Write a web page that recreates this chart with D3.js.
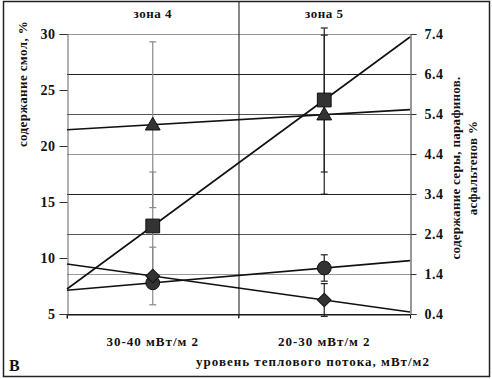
<!DOCTYPE html>
<html>
<head>
<meta charset="utf-8">
<script src="https://cdn.jsdelivr.net/npm/d3@7"></script>
<style>
  body { margin: 0; background: #fff; }
  svg text { font-family: 'Liberation Serif', 'Times New Roman', serif; font-weight: bold; fill: #111; }
</style>
</head>
<body>
<div id="chart"></div>
<script>
// data
const categories = ['30-40 мВт/м 2', '20-30 мВт/м 2']
const zones = ['зона 4', 'зона 5']
const leftTicks = [5, 10, 15, 20, 25, 30]
const rightTicks = [0.4, 1.4, 2.4, 3.4, 4.4, 5.4, 6.4, 7.4]

// смолы, left axis (triangles)
const resin = [21.9, 22.8]
const resinErr = [7.4, 7.1]
// right axis series
const paraffin = [2.6, 5.75]       // squares
const paraffinErr = [1.35, 1.8]
const sulfur = [1.18, 1.55]        // circles
const sulfurErr = [0.1, 0.33]
const asphaltene = [1.35, 0.75]    // diamonds
const asphalteneErr = [0.72, 0.41]

const W = 492, H = 379
const margin = {top: 34, left: 67, right: 82, bottom: 65}

let svg = d3.select('#chart').append('svg').attr('width', W).attr('height', H)

let x = d3.scaleBand().domain(categories).range([margin.left, W - margin.right])
let yL = d3.scaleLinear().domain([5, 30]).range([H - margin.bottom, margin.top])
let yR = d3.scaleLinear().domain([0.4, 7.4]).range([H - margin.bottom, margin.top])
let bw = x.bandwidth()
let cx = i => x(categories[i]) + bw / 2
let x0 = margin.left, x1 = W - margin.right, yB = H - margin.bottom

// frame
svg.append('rect').attr('x', 3.5).attr('y', 1.5).attr('width', 486).attr('height', 375)
  .attr('fill', 'none').attr('stroke', '#222').attr('stroke-width', 1.5)

// grid lines (right axis ticks)
svg.append('g').selectAll('line').data(rightTicks).enter().append('line')
  .attr('x1', x0).attr('x2', x1)
  .attr('y1', d => yR(d) + 0.5).attr('y2', d => yR(d) + 0.5)
  .attr('stroke', (d, i) => i % 3 === 0 ? '#222' : (i % 3 === 1 ? '#999' : '#555'))

// zone separator + zone titles
svg.append('line').attr('x1', x(categories[1]) + 0.5).attr('x2', x(categories[1]) + 0.5)
  .attr('y1', 2).attr('y2', yB + 4).attr('stroke', '#111')
svg.selectAll('.zone').data(zones).enter().append('text').classed('zone', true)
  .attr('x', (d, i) => cx(i)).attr('y', 18).attr('text-anchor', 'middle')
  .style('font-size', '13px').style('letter-spacing', '0.5px').text(d => d)

// axes
let axL = svg.append('g').attr('transform', `translate(${x0 + 0.5},0)`)
  .call(d3.axisLeft(yL).tickValues(leftTicks).tickSize(8).tickPadding(4).tickFormat(d3.format('d')))
axL.select('.domain').attr('stroke', '#666')
let axR = svg.append('g').attr('transform', `translate(${x1 + 0.5},0)`)
  .call(d3.axisRight(yR).tickValues(rightTicks).tickSize(6).tickPadding(8).tickFormat(d3.format('.1f')))
axR.select('.domain').attr('stroke', '#333')
svg.selectAll('.tick text').style('font-size', '14px').style('letter-spacing', '0.5px').style('font-family', null)
svg.selectAll('.tick line').attr('stroke', '#333')
svg.append('g').attr('transform', `translate(0,${yB + 0.5})`)
  .call(d3.axisBottom(x).tickSize(4).tickPadding(18))
  .call(g => g.select('.domain').attr('stroke', '#111'))
  .call(g => g.selectAll('.tick text').style('font-size', '13px').style('letter-spacing', '1px').style('font-family', null))
  .call(g => g.selectAll('.tick line').attr('transform', `translate(${-bw / 2},0)`).attr('stroke', '#333'))

// series
let series = [
  {v: resin, e: resinErr, y: yL, sym: d3.symbolTriangle, size: 95, rot: 0},
  {v: paraffin, e: paraffinErr, y: yR, sym: d3.symbolSquare, size: 190, rot: 0},
  {v: sulfur, e: sulfurErr, y: yR, sym: d3.symbolCircle, size: 150, rot: 0},
  {v: asphaltene, e: asphalteneErr, y: yR, sym: d3.symbolSquare, size: 95, rot: 45}
]

// error bars
series.forEach(s => {
  s.v.forEach((v, i) => {
    let col = i === 0 ? '#888' : '#222'
    let g = svg.append('g').attr('stroke', col).attr('stroke-width', 1.2)
    let yt = s.y(v + s.e[i]), yb = s.y(v - s.e[i])
    g.append('line').attr('x1', cx(i)).attr('x2', cx(i)).attr('y1', yt).attr('y2', yb)
    g.append('line').attr('x1', cx(i) - 3.5).attr('x2', cx(i) + 3.5).attr('y1', yt).attr('y2', yt)
    g.append('line').attr('x1', cx(i) - 3.5).attr('x2', cx(i) + 3.5).attr('y1', yb).attr('y2', yb)
  })
})

// linear trend lines extended to the plot edges
series.forEach(s => {
  let n = s.v.length
  let mx = d3.mean(d3.range(n)), my = d3.mean(s.v)
  let k = d3.sum(d3.range(n), i => (i - mx) * (s.v[i] - my)) / d3.sum(d3.range(n), i => (i - mx) * (i - mx))
  let f = t => my + k * (t - mx)
  let xi = d3.scaleLinear().domain([-0.5, n - 0.5]).range([x0, x1])
  svg.append('line')
    .attr('x1', xi(-0.5)).attr('y1', s.y(f(-0.5)))
    .attr('x2', xi(n - 0.5)).attr('y2', s.y(f(n - 0.5)))
    .attr('stroke', '#111').attr('stroke-width', 1.6)
})

// markers
series.forEach(s => {
  svg.append('g').selectAll('path').data(s.v).enter().append('path')
    .attr('d', d3.symbol().type(s.sym).size(s.size))
    .attr('transform', (d, i) => `translate(${cx(i)},${s.y(d) + (s.sym === d3.symbolTriangle ? 1 : 0)}) rotate(${s.rot})`)
    .attr('fill', '#333').attr('stroke', '#111')
})

// axis titles
svg.append('text').attr('transform', 'translate(27,84) rotate(-90)')
  .attr('text-anchor', 'middle').style('font-size', '13px').style('letter-spacing', '0.4px').text('содержание смол, %')
svg.append('text').attr('transform', 'translate(460,168) rotate(-90)')
  .attr('text-anchor', 'middle').style('font-size', '13px').style('letter-spacing', '0.3px').text('содержание серы, парафинов.')
svg.append('text').attr('transform', 'translate(477,168) rotate(-90)')
  .attr('text-anchor', 'middle').style('font-size', '13px').style('letter-spacing', '0.3px').text('асфальтенов %')
svg.append('text').attr('x', 313).attr('y', 366).attr('text-anchor', 'middle')
  .style('font-size', '13px').style('letter-spacing', '1px').text('уровень теплового потока, мВт/м2')
svg.append('text').attr('x', 9).attr('y', 371).style('font-size', '16px').text('В')
</script>
</body>
</html>
